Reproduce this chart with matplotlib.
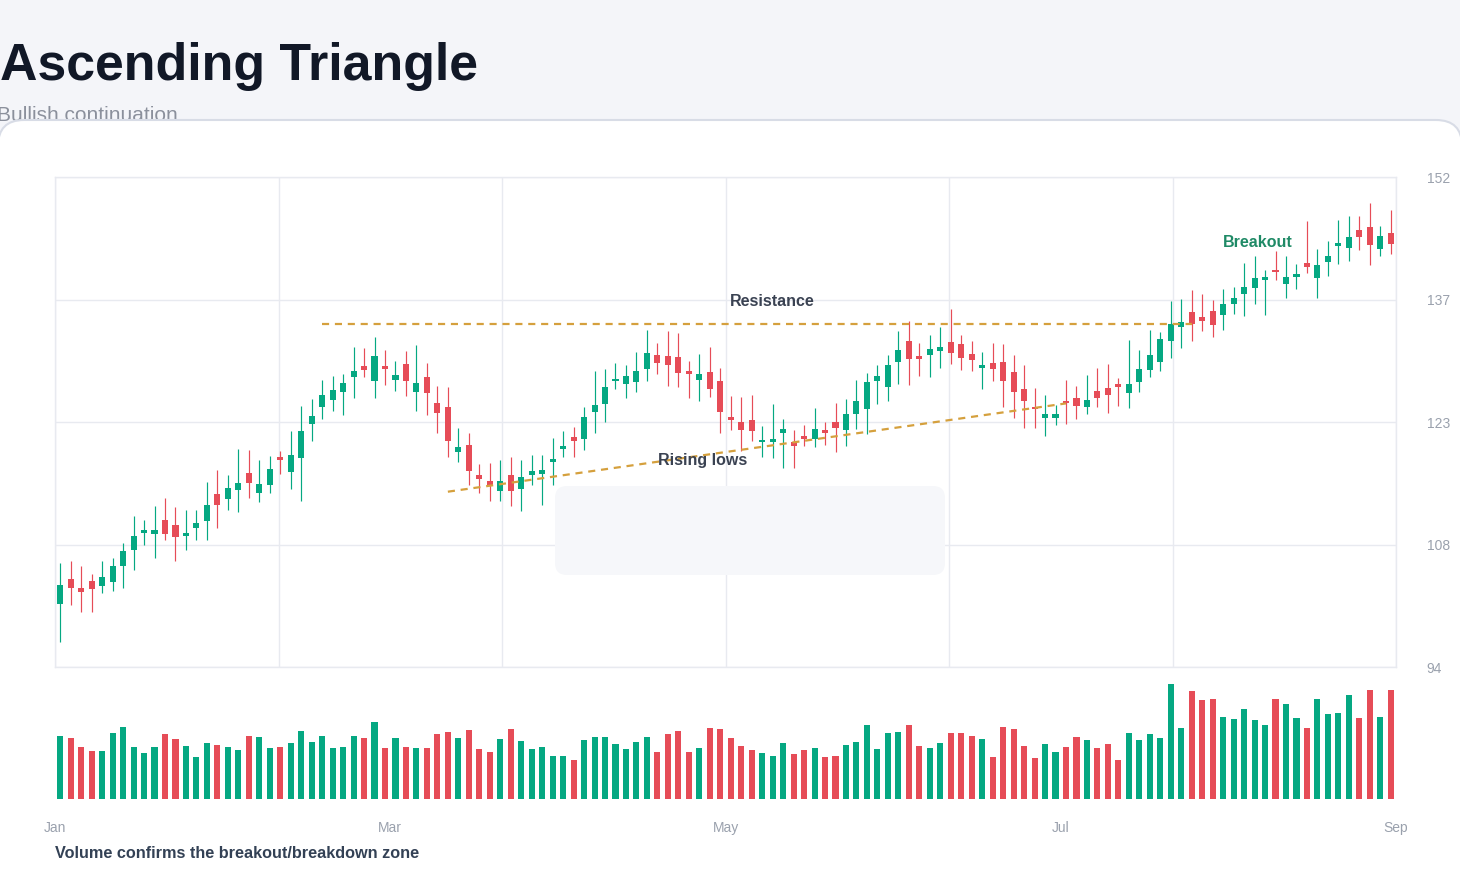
import numpy as np
import matplotlib
matplotlib.use("Agg")
import matplotlib.pyplot as plt
from matplotlib.patches import FancyBboxPatch
from matplotlib.transforms import IdentityTransform

plt.rcParams['font.family'] = ['Liberation Sans', 'DejaVu Sans']

# daily OHLC (128 sessions, Jan -> Sep)
open_ = [101.5, 104.4, 103.3, 104.2, 103.6, 104.1, 105.9, 107.8, 109.9, 109.7,
         111.4, 110.8, 109.5, 110.4, 111.3, 114.5, 113.9, 115.0, 117.0, 114.6,
         115.5, 118.9, 117.1, 118.7, 122.8, 124.8, 125.6, 126.6, 128.3, 129.6,
         127.9, 129.6, 128.0, 129.9, 126.6, 128.3, 125.3, 124.8, 119.5, 120.3,
         116.7, 116.0, 114.8, 116.7, 115.1, 116.7, 116.8, 118.3, 119.8, 121.2,
         121.0, 124.2, 125.1, 127.8, 127.5, 127.7, 129.3, 130.9, 130.8, 130.7,
         129.0, 128.0, 128.9, 127.9, 123.6, 123.0, 123.2, 120.6, 120.6, 121.7,
         120.6, 121.3, 121.0, 122.1, 123.0, 122.1, 123.9, 124.5, 127.8, 127.2,
         130.1, 132.6, 130.8, 130.9, 131.4, 132.5, 132.2, 131.1, 129.4, 130.0,
         130.1, 128.9, 126.9, 124.8, 123.5, 123.5, 125.5, 125.8, 124.8, 126.7,
         127.0, 127.5, 126.4, 127.7, 129.2, 130.1, 132.6, 134.3, 136.0, 135.4,
         136.1, 135.7, 137.0, 138.1, 138.9, 139.8, 141.0, 139.3, 140.2, 141.8,
         140.1, 141.9, 143.8, 143.6, 145.7, 146.1, 143.5, 145.4]
close = [103.7, 103.4, 102.9, 103.2, 104.7, 106.0, 107.7, 109.5, 110.2, 110.2,
         109.8, 109.4, 109.9, 111.0, 113.2, 113.2, 115.2, 115.8, 115.8, 115.7,
         117.4, 118.5, 119.1, 121.9, 123.7, 126.2, 126.8, 127.6, 129.0, 129.1,
         130.8, 129.3, 128.6, 127.8, 127.6, 126.4, 124.1, 120.8, 120.0, 117.2,
         116.3, 115.5, 116.0, 114.8, 116.5, 117.2, 117.3, 118.6, 120.2, 120.8,
         123.6, 125.0, 127.1, 128.1, 128.4, 129.0, 131.2, 130.0, 129.8, 128.8,
         128.7, 128.7, 126.9, 124.2, 123.2, 122.1, 121.9, 120.9, 121.0, 122.2,
         120.2, 121.0, 122.2, 121.7, 122.3, 123.9, 125.5, 127.7, 128.4, 129.7,
         131.5, 130.4, 130.4, 131.6, 131.9, 131.2, 130.6, 130.3, 129.7, 129.3,
         127.8, 126.5, 125.5, 124.5, 123.9, 123.9, 125.2, 124.9, 125.6, 125.8,
         126.2, 127.1, 127.5, 129.3, 130.9, 132.8, 134.6, 134.8, 134.6, 135.0,
         134.5, 137.0, 137.7, 139.0, 140.0, 140.2, 140.7, 140.2, 140.5, 141.4,
         141.6, 142.7, 144.2, 144.9, 144.9, 144.0, 145.0, 144.1]
high = [106.3, 106.5, 106.0, 105.0, 106.5, 106.9, 108.7, 111.9, 111.4, 113.1,
        114.0, 112.9, 112.6, 112.6, 115.9, 117.3, 116.7, 119.8, 119.7, 118.5,
        119.0, 119.6, 121.9, 124.9, 125.7, 128.0, 128.4, 128.7, 131.9, 131.8,
        133.1, 131.5, 130.2, 131.4, 132.1, 130.0, 127.3, 127.1, 122.3, 121.7,
        118.0, 118.1, 118.5, 118.9, 118.5, 119.1, 119.1, 121.1, 121.9, 122.4,
        124.8, 129.0, 129.3, 130.0, 129.7, 131.3, 133.9, 132.4, 133.8, 133.5,
        130.2, 131.0, 131.9, 129.4, 126.1, 126.0, 126.2, 122.5, 125.1, 123.4,
        122.1, 122.6, 124.7, 123.0, 125.2, 125.7, 128.0, 128.8, 129.7, 130.9,
        133.8, 135.0, 132.4, 133.3, 134.2, 136.4, 133.3, 132.6, 131.3, 132.4,
        132.2, 130.9, 129.7, 127.0, 126.2, 125.0, 128.0, 127.3, 128.6, 129.4,
        129.9, 128.2, 132.7, 131.5, 133.9, 133.7, 137.3, 137.6, 138.6, 138.2,
        137.4, 138.7, 139.0, 141.8, 142.7, 141.0, 143.2, 142.7, 141.7, 146.8,
        143.5, 144.4, 146.9, 147.4, 147.4, 148.9, 146.2, 148.1]
low = [97.0, 101.3, 100.5, 100.5, 102.8, 103.0, 103.4, 105.5, 108.5, 106.9,
       109.0, 106.6, 107.9, 109.0, 109.0, 110.5, 112.6, 112.4, 114.0, 113.5,
       114.6, 116.9, 115.1, 113.7, 120.7, 123.4, 124.3, 123.8, 125.9, 128.3,
       125.8, 127.4, 126.7, 126.1, 124.3, 123.8, 121.7, 118.8, 118.3, 115.5,
       114.6, 113.6, 113.7, 113.1, 112.5, 115.6, 113.2, 115.6, 118.8, 118.9,
       119.7, 121.7, 123.0, 126.9, 125.9, 126.6, 127.9, 128.7, 127.3, 127.2,
       125.8, 125.5, 126.0, 121.7, 122.0, 119.6, 120.8, 118.9, 118.7, 117.6,
       117.6, 120.2, 120.1, 120.3, 119.4, 120.2, 122.2, 121.6, 125.1, 125.5,
       127.5, 127.4, 128.5, 128.3, 129.4, 129.9, 129.2, 129.0, 126.9, 127.9,
       124.8, 123.5, 122.3, 122.3, 121.4, 122.7, 122.8, 123.4, 123.9, 124.8,
       124.1, 124.9, 124.7, 126.5, 128.3, 129.0, 130.6, 131.8, 132.6, 133.8,
       133.1, 133.9, 135.8, 135.6, 137.0, 135.7, 139.8, 137.7, 138.7, 140.6,
       137.7, 140.3, 141.7, 142.0, 143.4, 141.6, 142.7, 142.9]
volume = [63, 61, 52, 48, 48, 66, 72, 52, 46, 52,
          65, 60, 53, 42, 56, 54, 52, 49, 63, 62,
          51, 52, 56, 68, 57, 63, 51, 52, 63, 61,
          77, 51, 61, 52, 51, 51, 65, 67, 61, 69,
          50, 47, 60, 70, 58, 50, 52, 43, 43, 39,
          59, 62, 62, 55, 50, 57, 62, 47, 65, 68,
          47, 51, 71, 70, 61, 53, 49, 46, 43, 56,
          45, 49, 51, 42, 43, 54, 57, 74, 50, 66,
          67, 74, 53, 51, 56, 66, 66, 63, 60, 42,
          72, 70, 53, 41, 55, 47, 52, 62, 59, 51,
          55, 39, 66, 59, 65, 61, 115, 71, 108, 99,
          100, 82, 80, 90, 79, 74, 100, 95, 81, 71,
          100, 85, 86, 104, 81, 109, 82, 109]

month_labels = ["Jan", "Mar", "May", "Jul", "Sep"]
month_pos = [-0.5, 31.5, 63.5, 95.5, 127.5]
price_ticks = [94, 108.5, 123, 137.5, 152]
price_labels = ["94", "108", "123", "137", "152"]

resistance = 134.6
resistance_span = (25, 108)
rising_x = [37, 96]
rising_y = [114.75, 125.2]

GREEN = "#05a882"
RED = "#e64c57"
GOLD = "#d5a03d"
GRID = "#e8eaf0"

W, H = 1460, 880
fig = plt.figure(figsize=(W / 100, H / 100), dpi=100, facecolor="#f4f5f9")


def px_rect(x0, y0, x1, y1):
    # figure fraction rect from pixel box measured from top-left
    return [x0 / W, 1 - y1 / H, (x1 - x0) / W, (y1 - y0) / H]


# white card
card = FancyBboxPatch((-2, -40), 1464, H + 40 - 120, boxstyle="round,pad=0,rounding_size=26",
                      transform=IdentityTransform(), facecolor="white", edgecolor="#d8dce6",
                      linewidth=1.5, zorder=1)
fig.add_artist(card)

fig.text(0, 1 - 80 / H, "Ascending Triangle", fontsize=37.4, fontweight="bold",
         color="#111827", va="baseline", zorder=3)
fig.text(-3 / W, 1 - 121 / H, "Bullish continuation", fontsize=15, color="#8b909c",
         va="baseline", zorder=0.5)

n = len(close)
x = np.arange(n)
o = np.array(open_)
c = np.array(close)
colors = [GREEN if cc >= oo else RED for oo, cc in zip(o, c)]

# price panel
ax = fig.add_axes(px_rect(55, 177, 1396, 667))
ax.set_zorder(2)
ax.patch.set_alpha(0)
ax.vlines(x, low, high, colors=colors, linewidth=0.85, zorder=3)
body_lo = np.minimum(o, c)
body_h = np.maximum(np.abs(c - o), 0.12)
ax.bar(x, body_h, bottom=body_lo, width=0.58, color=colors, zorder=4)

ax.plot(resistance_span, [resistance, resistance], color=GOLD, linewidth=1.6,
        dashes=(3.2, 2.6), zorder=5)
ax.plot(rising_x, rising_y, color=GOLD, linewidth=1.6, dashes=(3.2, 2.6), zorder=5)

ax.text(68, 137.3, "Resistance", fontsize=11.5, fontweight="bold", color="#3a4252",
        ha="center", va="center", zorder=6)
ax.text(61.3, 118.5, "Rising lows", fontsize=11.5, fontweight="bold", color="#3a4252",
        ha="center", va="center", zorder=6)
ax.text(114.3, 144.3, "Breakout", fontsize=11.5, fontweight="bold", color="#1f8a66",
        ha="center", va="center", zorder=6)

ax.set_xlim(-0.5, n - 0.5)
ax.set_ylim(94, 152)
ax.set_xticks(np.linspace(-0.5, n - 0.5, 7))
ax.set_yticks(price_ticks)
ax.set_yticklabels(price_labels)
ax.yaxis.tick_right()
ax.tick_params(axis="x", length=0, labelbottom=False)
ax.tick_params(axis="y", length=0, pad=22, labelsize=10, labelcolor="#9aa1ad")
ax.grid(True, color=GRID, linewidth=1)
ax.set_axisbelow(True)
for s in ax.spines.values():
    s.set_color(GRID)
    s.set_linewidth(1)

# empty hover box
box = FancyBboxPatch((555, H - 575), 390, 89, boxstyle="round,pad=0,rounding_size=12",
                     transform=IdentityTransform(), facecolor="#f6f7fa", edgecolor="none",
                     zorder=3)
fig.add_artist(box)

# volume panel
vax = fig.add_axes(px_rect(55, 680, 1396, 799))
vax.set_zorder(2)
vax.patch.set_alpha(0)
vax.bar(x, volume, width=0.58, color=colors)
vax.set_xlim(-0.5, n - 0.5)
vax.set_ylim(0, 119)
vax.set_yticks([])
vax.set_xticks(month_pos)
vax.set_xticklabels(month_labels)
vax.tick_params(axis="x", length=0, pad=16, labelsize=10, labelcolor="#9aa1ad")
for s in vax.spines.values():
    s.set_visible(False)

fig.text(55 / W, 1 - 858 / H, "Volume confirms the breakout/breakdown zone", fontsize=11.7,
         fontweight="bold", color="#334155", va="baseline", zorder=3)

fig.savefig("out.png", dpi=100, facecolor=fig.get_facecolor())
